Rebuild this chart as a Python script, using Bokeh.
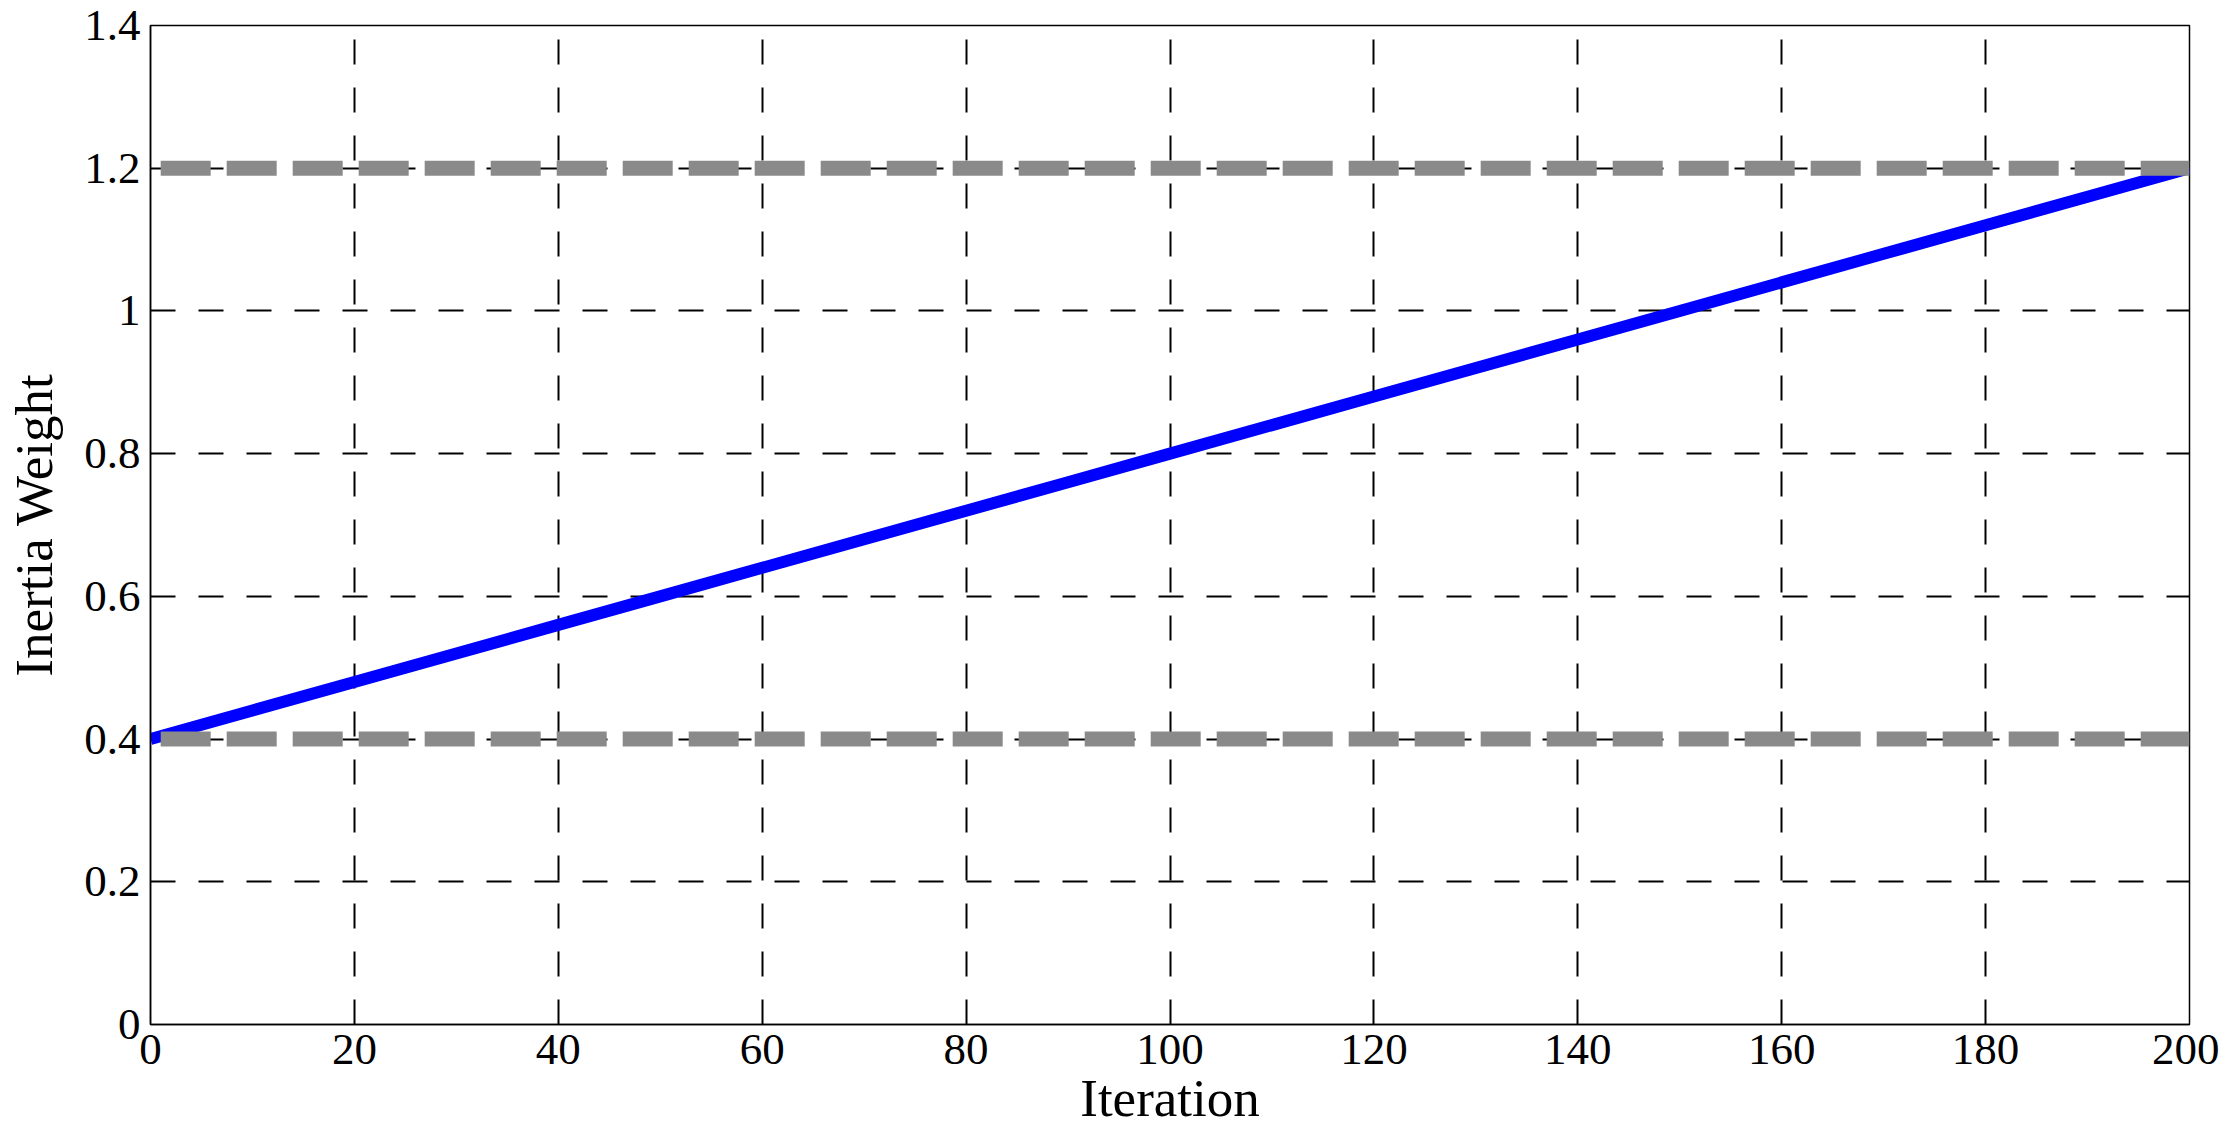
from bokeh.plotting import figure
from bokeh.models import FixedTicker
from bokeh.embed import file_html
from bokeh.resources import INLINE

# Data
iterations = [0, 10, 20, 30, 40, 50, 60, 70, 80, 90, 100,
              110, 120, 130, 140, 150, 160, 170, 180, 190, 200]
inertia_weight = [0.40, 0.44, 0.48, 0.52, 0.56, 0.60, 0.64, 0.68, 0.72, 0.76, 0.80,
                  0.84, 0.88, 0.92, 0.96, 1.00, 1.04, 1.08, 1.12, 1.16, 1.20]
bound_x = [1, 200]
upper_bound = [1.2, 1.2]
lower_bound = [0.4, 0.4]

x_ticks = [0, 20, 40, 60, 80, 100, 120, 140, 160, 180, 200]
y_ticks = [0, 0.2, 0.4, 0.6, 0.8, 1, 1.2, 1.4]
y_tick_labels = ["0", "0.2", "0.4", "0.6", "0.8", "1", "1.2", "1.4"]

FONT = "Liberation Serif"

p = figure(frame_width=2039, frame_height=999,
           x_range=(0, 200), y_range=(0, 1.4),
           output_backend="svg", toolbar_location=None,
           min_border_left=150, min_border_top=25, min_border_right=30,
           min_border_bottom=60)
p.background_fill_color = "white"
p.border_fill_color = "white"
p.outline_line_color = "black"
p.outline_line_width = 1.5

p.line(iterations, inertia_weight, line_color="#0000ff", line_width=12)
p.line(bound_x, upper_bound, line_color="#8a8a8a", line_width=15, line_dash="50 16")
p.line(bound_x, lower_bound, line_color="#8a8a8a", line_width=15, line_dash="50 16")

for g in (p.xgrid, p.ygrid):
    g.grid_line_color = "black"
    g.grid_line_width = 2
    g.grid_line_dash = "25 23"
    g.grid_line_alpha = 1.0
    g.level = "underlay"

p.xaxis.ticker = FixedTicker(ticks=x_ticks)
p.yaxis.ticker = FixedTicker(ticks=y_ticks)
p.yaxis.major_label_overrides = {t: l for t, l in zip(y_ticks, y_tick_labels)}
p.xgrid.ticker = FixedTicker(ticks=x_ticks)
p.ygrid.ticker = FixedTicker(ticks=y_ticks)

p.xaxis.axis_label = "Iteration"
p.yaxis.axis_label = "Inertia Weight"

for ax in (p.xaxis, p.yaxis):
    ax.axis_line_color = "black"
    ax.axis_line_width = 1.5
    ax.major_tick_in = 0
    ax.major_tick_out = 0
    ax.minor_tick_line_color = None
    ax.major_label_text_font = FONT
    ax.major_label_text_font_size = "45px"
    ax.major_label_text_color = "black"
    ax.axis_label_text_font = FONT
    ax.axis_label_text_font_size = "53px"
    ax.axis_label_text_font_style = "normal"
    ax.axis_label_text_color = "black"

p.xaxis.major_label_standoff = 10
p.xaxis.axis_label_standoff = 2
p.yaxis.major_label_standoff = 10
p.yaxis.axis_label_standoff = 18

open("out.html", "w").write(file_html(p, INLINE))
